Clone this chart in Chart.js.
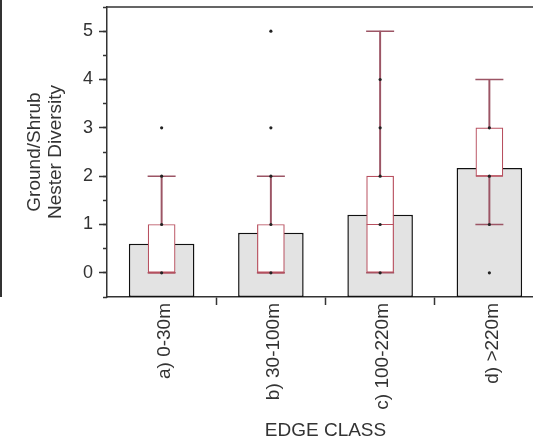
<!DOCTYPE html>
<html>
  <head>
    <script src="https://cdn.jsdelivr.net/npm/chart.js"></script>
    <title>Ground/Shrub Nester Diversity</title>
    <style>
      body {
        margin: 0;
        background-color: white;
        overflow: hidden;
      }
      .wrap {
        position: relative;
        width: 548px;
        height: 441px;
      }
      .edge {
        position: absolute;
        left: 0;
        top: 0;
        width: 2px;
        height: 297px;
        background-color: #333;
      }
    </style>
  </head>
  <body>
    <div class="wrap">
      <canvas id="diversityChart"></canvas>
      <div class="edge"></div>
    </div>

<script>
  // edge classes and the mean diversity of each
  const edgeClasses = ['a) 0-30m', 'b) 30-100m', 'c) 100-220m', 'd) >220m'];
  const means = [0.6, 0.83, 1.2, 2.17];

  // box plot summary per class
  const whiskerLow = [0, 0, 0, 1];
  const quartile1 = [0, 0, 0, 2];
  const medians = [0, 0, 1, 2];
  const quartile3 = [1, 1, 2, 3];
  const whiskerHigh = [2, 2, 5, 4];

  // observed values drawn as dots
  const pointsA = [0, 1, 2, 3];
  const pointsB = [0, 1, 2, 3, 5];
  const pointsC = [0, 1, 2, 3, 4];
  const pointsD = [0, 1, 2, 3];

  const yTicks = [0, 1, 2, 3, 4, 5];

  const boxColor = '#b8505f';
  const whiskerColor = '#9c5565';
  const textColor = '#333';
  const font = 'Arial, "Liberation Sans"';

  function byClass(values) {
    return values.map((v, i) => ({ x: edgeClasses[i], y: v }));
  }

  const dots = [];
  [pointsA, pointsB, pointsC, pointsD].forEach((pts, i) => {
    pts.forEach(v => dots.push({ x: edgeClasses[i], y: v }));
  });

  function noPad(s) {
    s.paddingTop = 0;
    s.paddingBottom = 0;
    s.paddingLeft = 0;
    s.paddingRight = 0;
  }

  // top edge of the plot frame
  const topEdge = {
    id: 'topEdge',
    afterDraw(chart) {
      const area = chart.chartArea;
      const c = chart.ctx;
      c.save();
      c.fillStyle = textColor;
      c.fillRect(area.left, area.top - 0.75, area.right - area.left, 1.5);
      c.restore();
    }
  };

  new Chart(document.getElementById('diversityChart'), {
    type: 'bar',
    data: {
      labels: edgeClasses,
      datasets: [
        {
          type: 'line',
          data: dots,
          showLine: false,
          pointRadius: 1.6,
          pointBackgroundColor: '#222',
          pointBorderWidth: 0,
          order: 0,
        },
        {
          type: 'line',
          data: byClass(medians),
          showLine: false,
          pointStyle: 'line',
          pointRadius: 13.5,
          pointBorderColor: boxColor,
          pointBorderWidth: 1.2,
          order: 1,
        },
        {
          type: 'bar',
          data: quartile1.map((q, i) => [q, quartile3[i]]),
          backgroundColor: 'white',
          borderColor: boxColor,
          borderWidth: 1.2,
          borderSkipped: false,
          barThickness: 27,
          grouped: false,
          order: 2,
        },
        {
          type: 'line',
          data: byClass(whiskerHigh).concat(byClass(whiskerLow)),
          showLine: false,
          pointStyle: 'line',
          pointRadius: 14,
          pointBorderColor: whiskerColor,
          pointBorderWidth: 1.5,
          order: 3,
        },
        {
          type: 'bar',
          data: whiskerLow.map((lo, i) => [lo, whiskerHigh[i]]),
          backgroundColor: whiskerColor,
          borderWidth: 0,
          barThickness: 1.3,
          grouped: false,
          order: 4,
        },
        {
          type: 'bar',
          data: means,
          base: -0.5,
          backgroundColor: '#e3e3e3',
          borderColor: '#111',
          borderWidth: 1.5,
          borderSkipped: false,
          barPercentage: 0.6,
          categoryPercentage: 1,
          grouped: false,
          order: 5,
        },
      ],
    },
    options: {
      responsive: true,
      maintainAspectRatio: false,
      animation: false,
      layout: { autoPadding: false, padding: { left: 0, top: 7, right: 4, bottom: 0 } },
      plugins: { legend: { display: false }, tooltip: { enabled: false } },
      scales: {
        x: {
          type: 'category',
          offset: true,
          grid: {
            offset: true,
            drawOnChartArea: false,
            tickLength: 8,
            tickWidth: 1.5,
            tickColor: c => (c.index === 0 ? 'rgba(0,0,0,0)' : textColor),
          },
          border: { color: textColor, width: 1.5 },
          ticks: {
            minRotation: 90,
            maxRotation: 90,
            padding: -2,
            labelOffset: 3,
            color: textColor,
            font: { family: font, size: 19 },
          },
          title: {
            display: true,
            text: 'EDGE CLASS',
            color: textColor,
            font: { family: font, size: 19, lineHeight: 1.1 },
            padding: { top: 0, bottom: 0 },
          },
          afterFit: s => { s.height = 144; noPad(s); },
        },
        y: {
          min: -0.5,
          max: 5.5,
          weight: 1,
          grid: { drawOnChartArea: false, tickLength: 8, tickWidth: 1.5, tickColor: textColor },
          border: { color: textColor, width: 1.5 },
          afterBuildTicks: s => { s.ticks = yTicks.map(v => ({ value: v })); },
          ticks: {
            padding: 6,
            color: textColor,
            font: { family: font, size: 18 },
          },
          title: {
            display: true,
            text: ['Ground/Shrub', 'Nester Diversity'],
            color: textColor,
            font: { family: font, size: 19, lineHeight: 1.1 },
            padding: { top: 24, bottom: 0 },
          },
          afterFit: s => { s.width = 107; noPad(s); },
        },
        // half-unit minor ticks
        y2: {
          position: 'left',
          min: -0.5,
          max: 5.5,
          weight: 0,
          grid: { drawOnChartArea: false, tickLength: 4, tickWidth: 1.5, tickColor: textColor },
          border: { display: false },
          ticks: { display: false, stepSize: 0.5 },
          afterFit: s => { s.width = 0; noPad(s); },
        },
      },
    },
    plugins: [topEdge],
  });
</script>
  </body>
</html>
